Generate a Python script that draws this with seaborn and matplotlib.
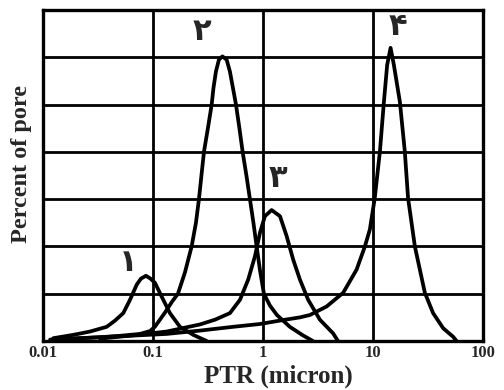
import matplotlib
matplotlib.use("Agg")
import matplotlib.pyplot as plt
import seaborn as sns
import pandas as pd
from matplotlib.ticker import LogLocator, NullFormatter, FixedLocator

# curve values (PTR in micron, percent in grid units)
x1 = [0.01241, 0.01886, 0.02674, 0.03794, 0.0451, 0.0537, 0.0618, 0.0711, 0.0778, 0.0864,
      0.0949, 0.1043, 0.12, 0.1427, 0.176, 0.2325, 0.308]
y1 = [0.06, 0.13, 0.2, 0.30, 0.43, 0.59, 0.87, 1.19, 1.32, 1.38,
      1.32, 1.23, 0.94, 0.59, 0.30, 0.13, 0.0]

x2 = [0.01285, 0.0217, 0.033, 0.0501, 0.0762, 0.0939, 0.104, 0.1285, 0.1489, 0.1688, 0.1954,
      0.2248, 0.246, 0.262, 0.276, 0.291, 0.316, 0.342, 0.355, 0.374, 0.398, 0.428,
      0.468, 0.501, 0.534, 0.569, 0.6113, 0.654, 0.708, 0.762, 0.82, 0.877, 0.94,
      1.021, 1.158, 1.341, 1.758, 2.31, 2.85]
y2 = [0.03, 0.06, 0.08, 0.11, 0.15, 0.21, 0.3, 0.6, 0.83, 1.0, 1.45,
      2.0, 2.5, 3.0, 3.5, 4.0, 4.5, 5.0, 5.35, 5.7, 5.95, 6.02,
      5.95, 5.7, 5.35, 5.0, 4.5, 4.0, 3.5, 3.0, 2.5, 2.0, 1.5,
      1.0, 0.75, 0.55, 0.3, 0.12, 0.0]

x3 = [0.033, 0.0658, 0.133, 0.267, 0.366, 0.501, 0.618, 0.735, 0.846, 0.94, 1.043, 1.2,
      1.43, 1.643, 1.886, 2.17, 2.581, 3.30, 4.356, 4.81]
y3 = [0.05, 0.12, 0.2, 0.35, 0.45, 0.59, 0.87, 1.30, 1.79, 2.29, 2.64, 2.77,
      2.64, 2.22, 1.72, 1.30, 0.87, 0.45, 0.16, 0.0]

x4 = [0.0116, 0.033, 0.133, 0.267, 0.534, 0.94, 1.585, 2.17, 2.675, 3.794, 5.37, 7.11, 8.46,
      9.39, 10.4, 11.6, 12.6, 13.49, 14.49, 15.52, 17.6, 19.5, 20.9, 24.1, 26.75, 29.7,
      35.3, 43.6, 53.7, 57.7]
y4 = [0.03, 0.08, 0.15, 0.22, 0.3, 0.36, 0.45, 0.5, 0.55, 0.73, 1.02, 1.51, 2.0,
      2.36, 3.02, 4.02, 5.06, 5.84, 6.2, 5.84, 5.06, 4.02, 3.02, 2.0, 1.51, 1.02,
      0.59, 0.27, 0.09, 0.0]

curve_labels = ["۱", "۲", "۳", "۴"]
label_x = [0.0589, 0.277, 1.37, 16.9]
label_y = [1.66, 6.55, 3.43, 6.66]

tick_vals = [0.01, 0.1, 1, 10, 100]
tick_text = ["0.01", "0.1", "1", "10", "100"]

rows = []
for name, xs, ys in [("1", x1, y1), ("2", x2, y2), ("3", x3, y3), ("4", x4, y4)]:
    for a, b in zip(xs, ys):
        rows.append({"curve": name, "ptr": a, "pct": b})
df = pd.DataFrame(rows)

sns.set_style("white")
plt.rcParams["font.family"] = ["Liberation Serif", "DejaVu Serif"]

fig = plt.figure(figsize=(5.04, 3.9), dpi=100)
ax = fig.add_axes([0.0853, 0.1256, 0.8727, 0.8487])

ax.set_xscale("log")
for name in ["1", "2", "3", "4"]:
    sns.lineplot(data=df[df.curve == name], x="ptr", y="pct", color="black",
                 linewidth=2.7, sort=False, ax=ax, legend=False,
                 solid_joinstyle="round", solid_capstyle="round")

ax.set_xlim(0.01, 100)
ax.set_ylim(0, 7)

# grid
for v in [0.1, 1, 10]:
    ax.axvline(v, color="black", linewidth=2.0, zorder=0)
for h in range(1, 7):
    ax.axhline(h, color="black", linewidth=2.0, zorder=0)

for s in ax.spines.values():
    s.set_linewidth(2.4)
    s.set_color("black")

ax.xaxis.set_major_locator(FixedLocator(tick_vals))
ax.set_xticklabels(tick_text, fontweight="bold", fontsize=12)
ax.xaxis.set_minor_locator(LogLocator(base=10, subs=range(2, 10)))
ax.xaxis.set_minor_formatter(NullFormatter())
ax.tick_params(axis="x", which="major", length=0, pad=3)
ax.tick_params(axis="x", which="minor", direction="in", length=4, width=1, color="black")
ax.set_yticks([])

ax.set_xlabel("PTR (micron)", fontsize=18, fontweight="bold")
ax.set_ylabel("Percent of pore", fontsize=17.5, fontweight="bold")
ax.xaxis.set_label_coords(0.536, -0.072)
ax.yaxis.set_label_coords(-0.024, 0.535)

for t, lx, ly in zip(curve_labels, label_x, label_y):
    ax.text(lx, ly, t, fontsize=22, fontweight="bold", ha="center", va="center",
            family=["DejaVu Sans"])

fig.savefig("out.png", dpi=100)
